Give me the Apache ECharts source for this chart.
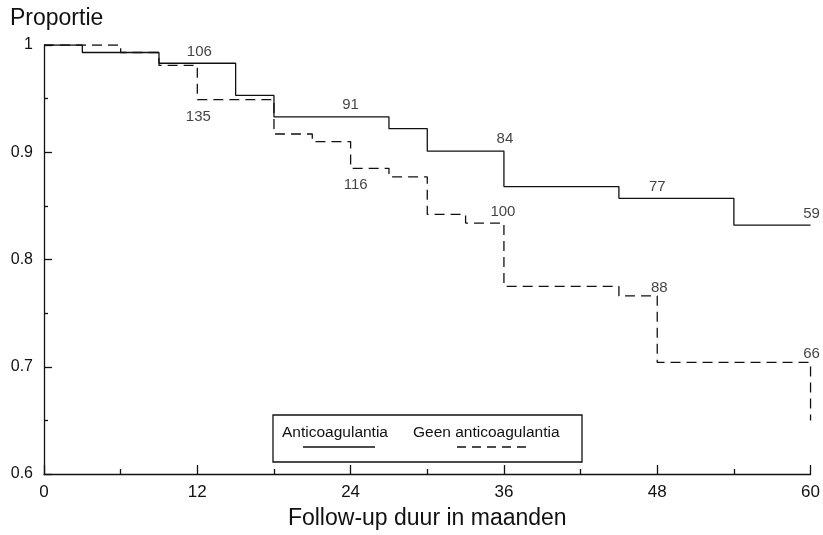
<!DOCTYPE html>
<html>
<head>
<meta charset="utf-8">
<script src="https://cdn.jsdelivr.net/npm/echarts@6/dist/echarts.min.js"></script>
<style>
  html, body { margin: 0; padding: 0; background: #fff; }
  #chart { width: 823px; height: 535px; }
</style>
</head>
<body>
<div id="chart"></div>
<script>
// Kaplan-Meier steps: month at which the proportion drops, and the new proportion
const antiMonths  = [0, 3, 9, 15, 18, 27, 30, 36, 45, 54, 60];
const antiValues  = [1, 0.993, 0.983, 0.953, 0.933, 0.922, 0.901, 0.868, 0.857, 0.832, 0.832];

const geenMonths  = [0, 6, 9, 12, 18, 21, 24, 27, 30, 33, 36, 45, 48, 60];
const geenValues  = [1, 0.993, 0.981, 0.949, 0.917, 0.910, 0.885, 0.877, 0.842, 0.834, 0.775, 0.766, 0.704, 0.650];

// Numbers at risk at 12, 24, 36, 48 and 60 months
const riskMonths = [12, 24, 36, 48, 60];
const riskAnti   = [106, 91, 84, 77, 59];
const riskGeen   = [135, 116, 100, 88, 66];

const xTicks = [0, 12, 24, 36, 48, 60];
const yTicks = [0.6, 0.7, 0.8, 0.9, 1];

const pairs = (xs, ys) => xs.map((x, i) => [x, ys[i]]);

// proportion on a step curve at month t; "before" takes the level just before a drop at t
function levelAt(xs, ys, t, before) {
  let v = ys[0];
  for (let i = 0; i < xs.length; i++) {
    if (xs[i] < t || (!before && xs[i] === t)) v = ys[i];
  }
  return v;
}

const ink = '#111';
const font = 'Liberation Sans, Arial, Helvetica, sans-serif';

// label placement per number: which side of the curve and a small shift
const antiSide = ['top', 'top', 'top', 'top', 'top'];
const antiBefore = [false, false, true, false, false];
const antiShift = [[2, 0], [0, 0], [1, -1], [0, 0], [1, 0]];
const geenSide = ['bottom', 'bottom', 'top', 'top', 'top'];
const geenBefore = [false, false, true, true, true];
const geenShift = [[1, 6], [5, 5], [-1, 0], [2, 3], [1, 3]];

function riskPoints(xs, ys, counts, side, before, shift) {
  return riskMonths.map((m, i) => ({
    value: [m, levelAt(xs, ys, m, before[i])],
    label: { position: side[i], offset: shift[i], formatter: String(counts[i]) }
  }));
}

const chart = echarts.init(document.getElementById('chart'), null, { renderer: 'canvas' });

const legendLeft = 273, legendTop = 415, legendW = 309, legendH = 47;

chart.setOption({
  backgroundColor: '#fff',
  animation: false,
  grid: { left: 44, right: 11, top: 45, bottom: 58 },
  xAxis: {
    type: 'value',
    min: 0, max: 60, interval: 12,
    name: 'Follow-up duur in maanden',
    nameLocation: 'middle',
    nameGap: 33,
    nameTextStyle: { color: ink, fontFamily: font, fontSize: 23 },
    axisLine: { show: true, onZero: false, lineStyle: { color: ink, width: 1.3 } },
    axisTick: { show: true, inside: true, length: 9, lineStyle: { color: ink, width: 1.3 } },
    minorTick: { show: true, splitNumber: 2, length: 5, lineStyle: { color: ink, width: 1.3 } },
    axisLabel: {
      color: ink, fontFamily: font, fontSize: 17, margin: 10,
      formatter: v => xTicks.includes(v) ? String(v) : ''
    },
    splitLine: { show: false }
  },
  yAxis: {
    type: 'value',
    min: 0.6, max: 1, interval: 0.1,
    name: 'Proportie',
    nameLocation: 'end',
    nameGap: 15,
    nameTextStyle: { color: ink, fontFamily: font, fontSize: 23, align: 'left', padding: [0, 0, 0, -34] },
    axisLine: { show: true, onZero: false, lineStyle: { color: ink, width: 1.3 } },
    axisTick: { show: true, inside: true, length: 8, lineStyle: { color: ink, width: 1.3 } },
    minorTick: { show: true, splitNumber: 2, length: 4, lineStyle: { color: ink, width: 1.3 } },
    axisLabel: {
      color: ink, fontFamily: font, fontSize: 16, margin: 11,
      formatter: v => {
        const t = yTicks.find(k => Math.abs(k - v) < 1e-6);
        return t === undefined ? '' : String(t);
      }
    },
    splitLine: { show: false }
  },
  series: [
    {
      name: 'Anticoagulantia',
      type: 'line',
      step: 'end',
      data: pairs(antiMonths, antiValues),
      showSymbol: false,
      lineStyle: { color: ink, width: 1.3, type: 'solid' },
      z: 3
    },
    {
      name: 'Geen anticoagulantia',
      type: 'line',
      step: 'end',
      data: pairs(geenMonths, geenValues),
      showSymbol: false,
      lineStyle: { color: ink, width: 1.3, type: [10, 6] },
      z: 3
    },
    {
      type: 'scatter',
      symbolSize: 0,
      data: riskPoints(antiMonths, antiValues, riskAnti, antiSide, antiBefore, antiShift),
      label: { show: true, color: ink, fontFamily: font, fontSize: 15, distance: 4 },
      silent: true
    },
    {
      type: 'scatter',
      symbolSize: 0,
      data: riskPoints(geenMonths, geenValues, riskGeen, geenSide, geenBefore, geenShift),
      label: { show: true, color: ink, fontFamily: font, fontSize: 15, distance: 4 },
      silent: true
    }
  ],
  graphic: [
    {
      type: 'rect',
      shape: { x: legendLeft, y: legendTop, width: legendW, height: legendH },
      style: { fill: '#fff', stroke: ink, lineWidth: 1.3 },
      z: 10
    },
    {
      type: 'text',
      x: legendLeft + 9, y: legendTop + 18,
      style: { text: 'Anticoagulantia', fill: ink, font: '15.5px ' + font, textVerticalAlign: 'middle' },
      z: 11
    },
    {
      type: 'line',
      shape: { x1: legendLeft + 30, y1: legendTop + 32, x2: legendLeft + 102, y2: legendTop + 32 },
      style: { stroke: ink, lineWidth: 1.3 },
      z: 11
    },
    {
      type: 'text',
      x: legendLeft + 140, y: legendTop + 18,
      style: { text: 'Geen anticoagulantia', fill: ink, font: '15.5px ' + font, textVerticalAlign: 'middle' },
      z: 11
    },
    {
      type: 'line',
      shape: { x1: legendLeft + 184, y1: legendTop + 32, x2: legendLeft + 257, y2: legendTop + 32 },
      style: { stroke: ink, lineWidth: 1.3, lineDash: [9, 6] },
      z: 11
    }
  ]
});
</script>
</body>
</html>
